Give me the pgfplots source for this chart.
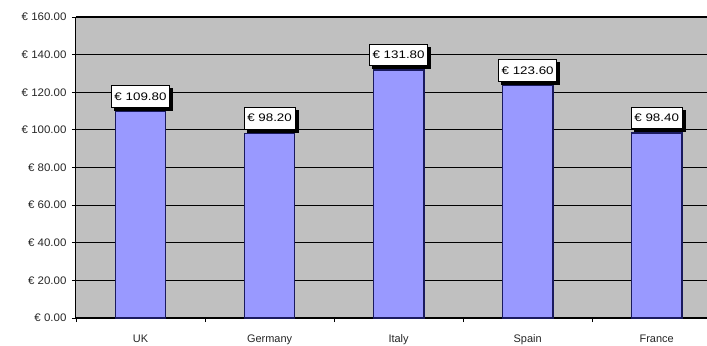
\documentclass[border=0pt]{standalone}
\usepackage{pgfplots}
\pgfplotsset{compat=1.18}
\usepackage{fontspec}
\setmainfont{Liberation Sans}
\usepackage{graphicx}
\usetikzlibrary{shadows}
\definecolor{bg}{HTML}{C0C0C0}
\definecolor{barfill}{HTML}{9999FF}
\definecolor{baredge}{HTML}{1A1A5E}
\newcommand{\wt}[1]{\scalebox{1.22}[1]{#1}}
\newcommand{\wy}[1]{\scalebox{1.05}[1]{#1}}
\begin{document}
\begin{tikzpicture}
\begin{axis}[
  at={(0,0)}, anchor=south west,
  scale only axis, width=631bp, height=301bp,
  xmin=-0.5, xmax=4.39, ymin=0, ymax=160,
  ybar, bar width=0.39,
  ytick={0,20,...,160},
  ymajorgrids, grid style={black, line width=1.1bp},
  axis background/.style={fill=bg},
  axis x line*=bottom, axis y line*=left,
  axis line style={black, line width=1bp, -},
  tick align=outside, major tick length=4bp,
  tick style={black, line width=0.8bp},
  xtick={-0.5,0.5,1.5,2.5,3.5}, xticklabels={},
  extra x ticks={0,1,2,3,4},
  extra x tick labels={UK,Germany,Italy,Spain,France},
  extra x tick style={major tick length=0pt, tick style={draw=none}, grid=none},
  /pgf/number format/assume math mode=true,
  yticklabel={\wy{€ \pgfmathprintnumber[fixed,fixed zerofill,precision=2]{\tick}}},
  every tick label/.append style={font=\fontsize{11}{13}\selectfont, text=black!85},
  xticklabel style={yshift=-13bp},
  yticklabel style={xshift=-2bp},
]
\addplot[fill=barfill, draw=baredge, line width=1.5bp,
  nodes near coords={\wt{€ \pgfmathprintnumber[fixed,fixed zerofill,precision=2]{\pgfplotspointmeta}}},
  nodes near coords style={fill=white, draw=black, line width=0.6bp,
    inner xsep=3bp, inner ysep=7bp,
    anchor=south, yshift=4bp, text=black,
    font=\fontsize{11}{13}\selectfont,
    drop shadow={shadow xshift=3bp, shadow yshift=-3bp, fill=black, opacity=1}}
] coordinates {(0,109.8) (1,98.2) (2,131.8) (3,123.6) (4,98.4)};
\end{axis}
\pgfresetboundingbox
\path[use as bounding box] (-76bp,-28bp) rectangle (631bp,318bp);
\end{tikzpicture}
\end{document}
